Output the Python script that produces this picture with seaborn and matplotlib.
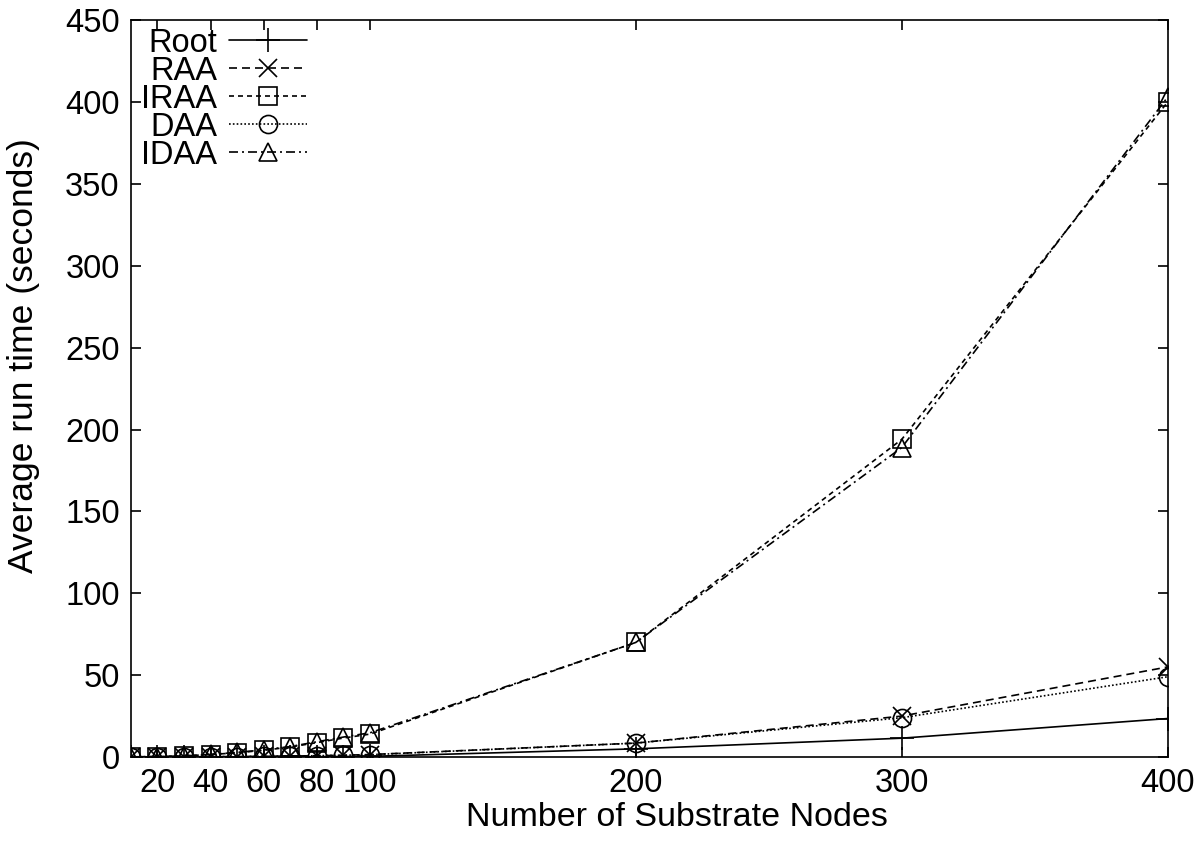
import numpy as np
import pandas as pd
import matplotlib
matplotlib.use("Agg")
import matplotlib.pyplot as plt
import seaborn as sns

nodes = [10, 20, 30, 40, 50, 60, 70, 80, 90, 100, 200, 300, 400]
root = [0.0, 0.0, 0.05, 0.05, 0.1, 0.1, 0.15, 0.2, 0.3, 0.4, 5.0, 11.5, 23.5]
raa = [0.0, 0.05, 0.1, 0.2, 0.3, 0.45, 0.6, 0.8, 1.1, 1.5, 8.5, 25.0, 55.0]
iraa = [0.1, 0.3, 0.7, 1.5, 2.6, 4.1, 6.1, 8.8, 11.6, 14.0, 70.0, 194.0, 400.0]
daa = [0.0, 0.05, 0.1, 0.2, 0.3, 0.45, 0.6, 0.8, 1.1, 1.4, 8.5, 24.0, 49.0]
idaa = [0.1, 0.3, 0.7, 1.6, 2.8, 4.4, 6.4, 9.3, 12.2, 14.8, 70.0, 189.0, 403.0]

series = ["Root", "RAA", "IRAA", "DAA", "IDAA"]
values = [root, raa, iraa, daa, idaa]

sns.set_theme(style="ticks")
plt.rcParams["font.family"] = ["Liberation Sans", "DejaVu Sans"]
plt.rcParams["font.size"] = 24
plt.rcParams["text.color"] = "black"
plt.rcParams["axes.labelcolor"] = "black"

fs = 23.5
lw = 1.2
styles = {
    "Root": dict(marker="+", ls="-", ms=17),
    "RAA": dict(marker="x", ls=(0, (4.8, 3.0)), ms=13),
    "IRAA": dict(marker="s", ls=(0, (3.0, 2.4)), ms=13),
    "DAA": dict(marker="o", ls=(0, (1.0, 1.3)), ms=13),
    "IDAA": dict(marker="^", ls=(0, (5.4, 2.4, 1.2, 2.4)), ms=13),
}

fig, ax = plt.subplots(figsize=(12, 8.43), dpi=100)
fig.subplots_adjust(left=0.109, right=0.973, bottom=0.102, top=0.976)

for name, vals in zip(series, values):
    st = styles[name]
    sns.lineplot(x=nodes, y=vals, ax=ax, color="black", lw=lw,
                 marker=st["marker"], linestyle=st["ls"], markersize=st["ms"],
                 mec="black", mfc="none", mew=1.2, label=name, legend=False)

for line in ax.lines:
    line.set_markerfacecolor("none")
    line.set_markeredgecolor("black")

ax.set_xlim(10, 400)
ax.set_ylim(0, 450)
ax.set_xticks([20, 40, 60, 80, 100, 200, 300, 400])
ax.set_yticks(np.arange(0, 451, 50))
ax.tick_params(direction="in", length=7, width=1.2, top=True, right=True,
               labelsize=fs, pad=8, colors="black")
for sp in ax.spines.values():
    sp.set_visible(True)
    sp.set_linewidth(1.2)
    sp.set_color("black")

ax.set_xlabel("Number of Substrate Nodes", fontsize=24.5)
ax.xaxis.set_label_coords(0.5265, -0.061)
ax.set_ylabel("Average run time (seconds)", fontsize=25.5)
ax.yaxis.set_label_coords(-0.088, 0.545)

handles = ax.lines[:5]
leg = ax.legend(handles, series, loc="upper right", bbox_to_anchor=(0.17, 0.99),
                frameon=False, markerfirst=False, fontsize=fs,
                handlelength=2.4, handletextpad=0.35, labelspacing=-0.09,
                borderpad=0, borderaxespad=0)
for t in leg.get_texts():
    t.set_color("black")

fig.savefig("out.png", dpi=100)
